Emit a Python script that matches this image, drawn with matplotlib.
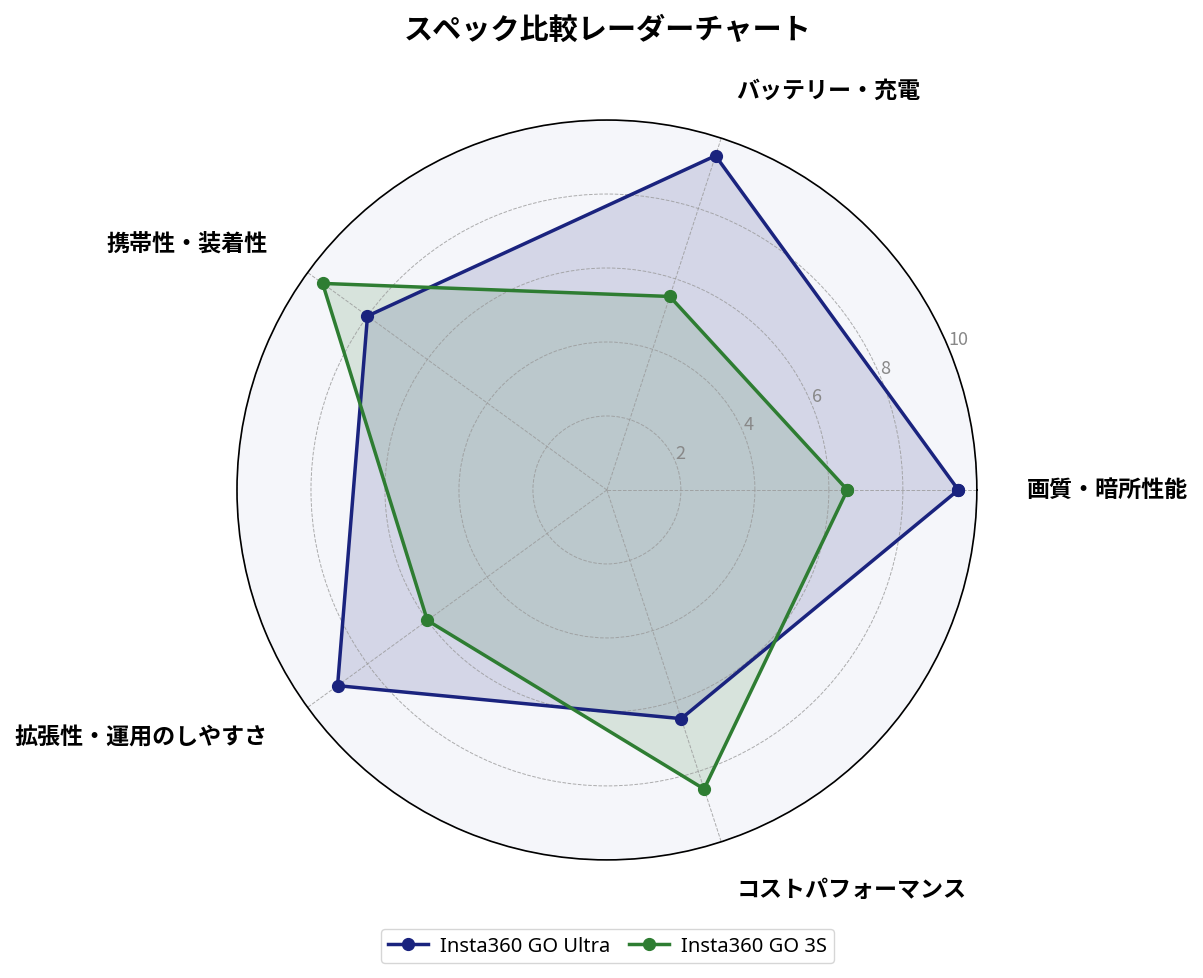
import numpy as np
import matplotlib
import matplotlib.pyplot as plt

matplotlib.use('Agg')
plt.rcParams['font.family'] = ['Noto Sans CJK JP', 'DejaVu Sans']

# data
categories = ['画質・暗所性能', 'バッテリー・充電', '携帯性・装着性',
              '拡張性・運用のしやすさ', 'コストパフォーマンス']
ultra = [9.5, 9.5, 8.0, 9.0, 6.5]
go3s = [6.5, 5.5, 9.5, 6.0, 8.5]
series_names = ['Insta360 GO Ultra', 'Insta360 GO 3S']
rticks = [2, 4, 6, 8, 10]


def close(vals):
    return list(vals) + [vals[0]]


n = len(categories)
angles = np.linspace(0, 2 * np.pi, n, endpoint=False)
ang_c = close(angles)

fig = plt.figure(figsize=(12.03, 9.79), dpi=100)
ax = fig.add_axes([0.197, 0.1205, 0.615, 0.756], projection='polar')
ax.set_facecolor('#f5f6fa')

ax.set_ylim(0, 10)
ax.set_yticks(rticks)
ax.set_yticklabels([str(t) for t in rticks], color='#888888', fontsize=13)
ax.set_rlabel_position(22.5)

ax.set_xticks(angles)
ax.set_xticklabels([])
ax.grid(True, color='#999999', linestyle='--', linewidth=0.7, alpha=0.8)
ax.spines['polar'].set_color('black')
ax.spines['polar'].set_linewidth(1.2)

# category labels, pushed out and aligned by side
for a, lab in zip(angles, categories):
    c = np.cos(a)
    if c > 0.01:
        ha = 'left'
    elif c < -0.01:
        ha = 'right'
    else:
        ha = 'center'
    ax.text(a, 11.35, lab, ha=ha, va='center', fontsize=16.6,
            fontweight='bold', clip_on=False)

colors = ['#1a237e', '#2e7d32']
for vals, name, col in zip([ultra, go3s], series_names, colors):
    ax.plot(ang_c, close(vals), color=col, linewidth=2.5, marker='o',
            markersize=8.5, label=name)
    ax.fill(ang_c, close(vals), color=col, alpha=0.15)

fig.suptitle('スペック比較レーダーチャート', fontsize=21, fontweight='bold',
             x=0.505, y=0.985)
fig.legend(loc='lower center', ncol=2, columnspacing=0.9,
           prop={'family': ['Noto Sans', 'DejaVu Sans'], 'size': 14.5},
           handletextpad=0.6, borderpad=0.35,
           bbox_to_anchor=(0.505, 0.005), frameon=True)

plt.savefig('out.png', dpi=100)
